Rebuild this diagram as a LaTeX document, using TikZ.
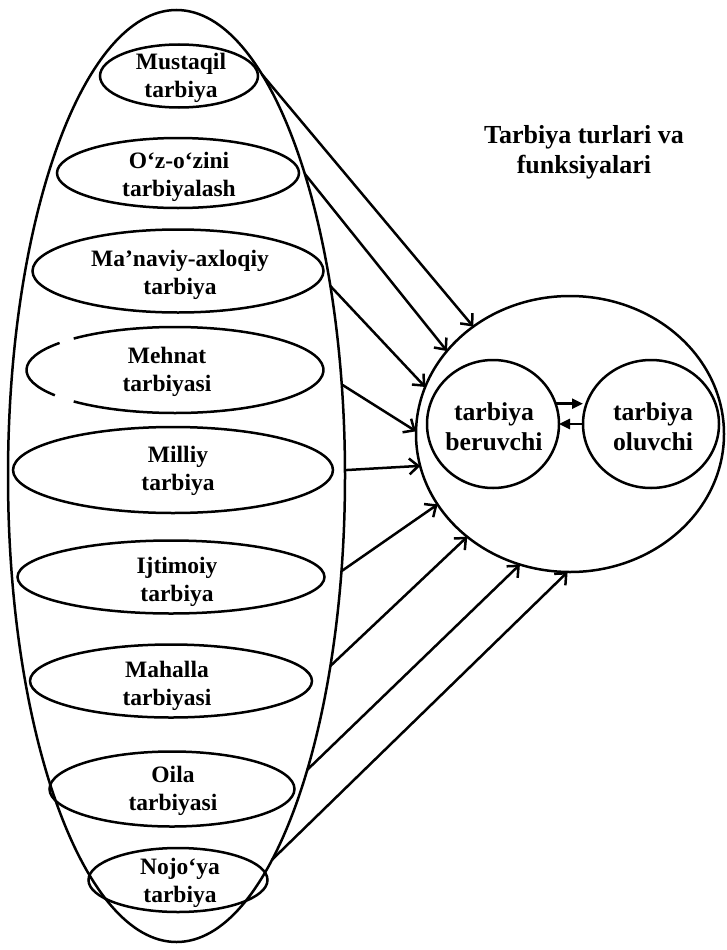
\documentclass[tikz,border=0pt]{standalone}
\usepackage{fontspec}
\setmainfont{Liberation Serif}
\usetikzlibrary{shapes.geometric,arrows.meta,calc}
\begin{document}
\begin{tikzpicture}[x=1pt,y=-1pt,
  line width=2.5pt,
  elli/.style={ellipse,draw,inner sep=0pt,outer sep=0pt},
  etext/.style={align=center,font=\bfseries\fontsize{23.5}{28}\selectfont,inner sep=0pt},
  ctext/.style={align=center,font=\bfseries\fontsize{25.7}{30}\selectfont,inner sep=0pt},
  conn/.style={-{Straight Barb[length=9pt,width=16pt]}},
  smallarr/.style={-{Triangle[length=11pt,width=10pt]}}]
\useasboundingbox (0,0) rectangle (727,950);

% outer ellipse
\node[elli,minimum width=337pt,minimum height=932pt] (outer) at (176.5,476) {};

% inner ellipses
\node[elli,minimum width=158pt,minimum height=63pt] (e1) at (179,76) {};
\node[etext] (t1) at (181,78) {Mustaqil\\tarbiya};
\node[elli,minimum width=242pt,minimum height=70pt] (e2) at (178,173) {};
\node[etext] (t2) at (179,177) {O‘z-o‘zini\\tarbiyalash};
\node[elli,minimum width=291pt,minimum height=83pt] (e3) at (178,271) {};
\node[etext] (t3) at (180,275) {Ma’naviy-axloqiy\\tarbiya};
\node[ellipse,inner sep=0pt,outer sep=0pt,minimum width=297pt,minimum height=86pt] (e4) at (175,370) {};
\draw (e4.center) ++(227:148.5 and 43) arc[start angle=227,end angle=493,x radius=148.5,y radius=43];
\draw (e4.center) ++(144:148.5 and 43) arc[start angle=144,end angle=219,x radius=148.5,y radius=43];
\node[etext] (t4) at (167,372) {Mehnat\\tarbiyasi};
\node[elli,minimum width=320pt,minimum height=86pt] (e5) at (173,470) {};
\node[etext] (t5) at (178,471) {Milliy\\tarbiya};
\node[elli,minimum width=307pt,minimum height=73pt] (e6) at (171,577) {};
\node[etext] (t6) at (177,582) {Ijtimoiy\\tarbiya};
\node[elli,minimum width=282pt,minimum height=73pt] (e7) at (171,681) {};
\node[etext] (t7) at (167,686) {Mahalla\\tarbiyasi};
\node[elli,minimum width=245pt,minimum height=75pt] (e8) at (172,789) {};
\node[etext] (t8) at (173,791) {Oila\\tarbiyasi};
\node[elli,minimum width=179pt,minimum height=64pt] (e9) at (178,880) {};
\node[etext] (t9) at (180,883) {Nojo‘ya\\tarbiya};

% title
\node[ctext,font=\bfseries\fontsize{26}{30}\selectfont] (title) at (584,152) {Tarbiya turlari va\\funksiyalari};

% big circle and inner circles
\node[elli,minimum width=308pt,minimum height=276pt] (big) at (570,434) {};
\node[elli,minimum width=132pt,minimum height=128pt] (bl) at (493,424) {};
\node[elli,minimum width=136pt,minimum height=128pt] (br) at (651,424) {};
\node[ctext] (tbl) at (494,427) {tarbiya\\beruvchi};
\node[ctext] (tbr) at (653,427) {tarbiya\\oluvchi};

\draw[smallarr] (bl.18) -- (bl.18 -| br.west);
\draw[smallarr] (br.west) -- (bl.east);

% connectors
\draw[conn] (outer.78.5) -- (big.132.6);
\draw[conn] (outer.67.0) -- (big.146.7);
\draw[conn] (outer.51.0) -- (big.162.4);
\draw[conn] (outer.29.4) -- (big.179.3);
\draw[conn] (outer.2.7) -- (big.192.2);
\draw[conn] (outer.-30.2) -- (big.208.4);
\draw[conn] (outer.-51.6) -- (big.225.8);
\draw[conn] (outer.-66.5) -- (big.249.1);
\draw[conn] (outer.-76.1) -- (big.269.2);
\end{tikzpicture}
\end{document}
